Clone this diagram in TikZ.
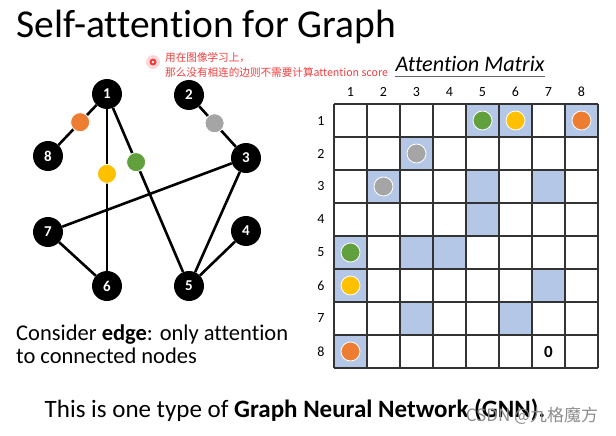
\documentclass[tikz,border=0pt]{standalone}
\usepackage{fontspec}
\setmainfont{Carlito}[Ligatures=CommonOff]
\newfontfamily\cjkfont{Noto Sans CJK SC}
\usetikzlibrary{calc,backgrounds}
\definecolor{cellblue}{HTML}{B4C7E7}
\definecolor{dotgreen}{HTML}{62A03E}
\definecolor{dotyellow}{HTML}{FFC000}
\definecolor{dotorange}{HTML}{ED7D31}
\definecolor{dotgray}{HTML}{A5A5A5}
\definecolor{notered}{HTML}{F23C3C}
\tikzset{
	vertex/.style={circle, fill=black, text=white, minimum size=30pt, inner sep=0pt, font=\fontsize{15}{15}\selectfont\bfseries},
	dot/.style={circle, draw=white, line width=0.8pt, minimum size=19pt, inner sep=0pt},
	edge/.style={line width=2.6pt},
	gridline/.style={line width=1.1pt, color=black!80},
	lbl/.style={font=\fontsize{14}{14}\selectfont}
}

\begin{document}
\begin{tikzpicture}[x=1pt, y=-1pt]
		%%%%% START %%%%%
		\useasboundingbox (0, 0) rectangle (616, 436);
		
		\node[anchor=base west, inner sep=0pt, font=\fontsize{39.5}{39.5}\selectfont] (title) at (16, 38) {Self-attention for Graph};
		
		% red note
		\fill[red!15] (153, 62) circle (7pt);
		\fill[notered] (153, 62) circle (3.5pt);
		\fill[white] (153, 62) circle (1.3pt);
		\node[anchor=west, align=left, inner sep=0pt, text=notered, font=\cjkfont\fontsize{10.6}{15}\selectfont] (note) at (165, 64.5) {用在图像学习上，\\那么没有相连的边则不需要计算attention score};
		
		% graph
		\node[vertex] (n1) at (107, 94) {1};
		\node[vertex] (n2) at (189, 95) {2};
		\node[vertex] (n3) at (246, 158) {3};
		\node[vertex] (n4) at (246, 231) {4};
		\node[vertex] (n5) at (189, 286) {5};
		\node[vertex] (n6) at (107, 286) {6};
		\node[vertex] (n7) at (48, 232) {7};
		\node[vertex] (n8) at (48, 156) {8};
		
		\begin{scope}[on background layer]
		\draw[edge] (n1) -- (n8);
		\draw[edge] (n1) -- (n6);
		\draw[edge] (n1) -- (n5);
		\draw[edge] (n2) -- (n3);
		\draw[edge] (n3) -- (n7);
		\draw[edge] (n3) -- (n5);
		\draw[edge] (n4) -- (n5);
		\draw[edge] (n7) -- (n6);
		\end{scope}
		
		\path (n1) -- (n8) node[dot, fill=dotorange, pos=0.43] (d18) {};
		\path (n2) -- (n3) node[dot, fill=dotgray, pos=0.42] (d23) {};
		\path (n1) -- (n5) node[dot, fill=dotgreen, pos=0.33] (d15) {};
		\path (n1) -- (n6) node[dot, fill=dotyellow, pos=0.40] (d16) {};
		
		% attention matrix
		\node[anchor=base, inner sep=0pt, font=\fontsize{22.2}{22.2}\selectfont\itshape] (mtitle) at (470, 72) {Attention Matrix};
		\draw[line width=1pt, color=black!60] (mtitle.west |- 0, 77) -- (mtitle.east |- 0, 77);
		
		\foreach \c/\r in {5/1, 6/1, 8/1, 3/2, 2/3, 5/3, 7/3, 5/4, 1/5, 3/5, 4/5, 1/6, 7/6, 3/7, 6/7, 1/8}
			\fill[cellblue] ({301+33*\c}, {71+33*\r}) rectangle ++(33, 33);
		
		\foreach \i in {0,...,8} {
			\draw[gridline] ({334+33*\i}, 104) -- ({334+33*\i}, 368);
			\draw[gridline] (334, {104+33*\i}) -- (598, {104+33*\i});
		}
		
		\foreach \i in {1,...,8} {
			\node[lbl] (col\i) at ({317.5+33*\i}, 92) {\i};
			\node[lbl] (row\i) at (321, {87.5+33*\i}) {\i};
		}
		
		\foreach \c/\r/\col in {5/1/dotgreen, 6/1/dotyellow, 8/1/dotorange, 3/2/dotgray, 2/3/dotgray, 1/5/dotgreen, 1/6/dotyellow, 1/8/dotorange}
			\node[dot, fill=\col] (m\r\c) at ({317.5+33*\c}, {87.5+33*\r}) {};
		
		\node[font=\fontsize{17}{17}\selectfont\bfseries] (zero) at (548.5, 352) {0};
		
		% captions
		\node[anchor=north west, align=left, inner sep=0pt, font=\fontsize{22.5}{23}\selectfont] (consider) at (16, 324.5) {Consider \textbf{edge}: only attention\\to connected nodes};
		\node[anchor=base, inner sep=0pt, font=\fontsize{25}{25}\selectfont] (gnn) at (295, 417) {This is one type of \textbf{Graph Neural Network (GNN).}};
		\node[text=black!45, inner sep=0pt, font=\cjkfont\fontsize{17}{17}\selectfont] (mark) at (532, 416) {CSDN @九格魔方};
		
		%%%%% END %%%%%
	\end{tikzpicture}
\end{document}
